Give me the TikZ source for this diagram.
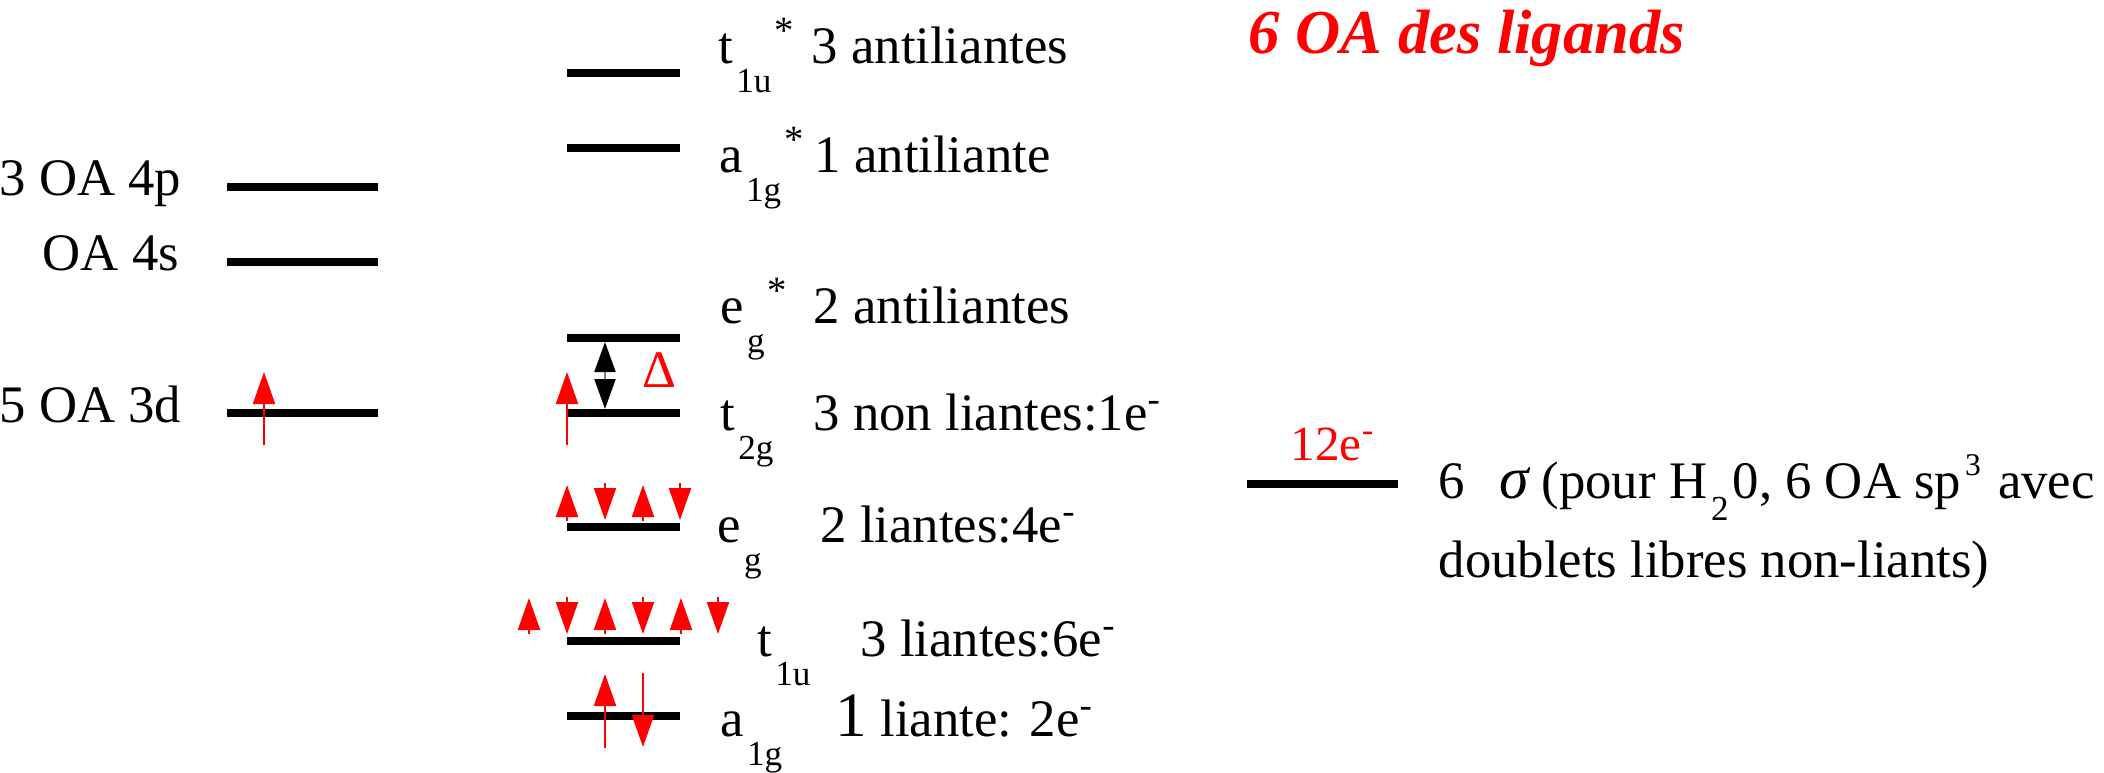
\documentclass[tikz,border=0pt]{standalone}
\usepackage{fontspec}
\setmainfont{Liberation Serif}
\usepackage{tikz}
\usetikzlibrary{arrows.meta}
\newcommand{\osub}[1]{\kern0.3mm\raisebox{-2.9mm}{\fontsize{10}{10}\selectfont #1}}
\newcommand{\ostar}{\kern0.3mm\raisebox{2mm}{\fontsize{11}{11}\selectfont *}}
\newcommand{\eminus}{\textsuperscript{-}}
\tikzset{
  lvl/.style   = {fill=black, inner sep=0pt, outer sep=0pt,
                  minimum width=11.3mm, minimum height=0.8mm},
  lvlw/.style  = {lvl, minimum width=15.1mm},
  lbl/.style   = {anchor=base west, inner sep=0pt,
                  font=\fontsize{15}{18}\selectfont},
  spin/.style  = {red, line width=0.6pt,
                  -{Triangle[length=3.2mm,width=2.2mm]}},
  gapar/.style = {gray, line width=0.6pt,
                  {Triangle[color=black,length=3mm,width=2.1mm]}-{Triangle[color=black,length=3mm,width=2.1mm]}}
}

\begin{document}
\begin{tikzpicture}[x=0.1mm, y=-0.1mm]
  \useasboundingbox (0,0) rectangle (2104,772);
  % OA du metal
  \node[lvlw] (p4) at (302.5,187) {};
  \node[lvlw] (s4) at (302.5,262) {};
  \node[lvlw] (d3) at (302.5,413) {};
  \node[lbl] (p4t) at (-1,195) {3 OA 4p};
  \node[lbl] (s4t) at (42,270)  {OA 4s};
  \node[lbl] (d3t) at (-1,422)  {5 OA 3d};
  \draw[spin] (264,445) -- (264,372);
  % OM du complexe
  \foreach \n/\y in {t1us/73, a1gs/148, egs/338, t2g/413, eg/527, t1u/641, a1g/716}
    \node[lvl] (\n) at (623.5,\y) {};
  \node[lbl] (t1ust) at (718,63)  {t\osub{1u}\ostar};
  \node[lbl] (t1usd) at (811,63)  {3 antiliantes};
  \node[lbl] (a1gst) at (719,172) {a\osub{1g}\ostar};
  \node[lbl] (a1gsd) at (814,172) {1 antiliante};
  \node[lbl] (egst)  at (720,323) {e\osub{g}\ostar};
  \node[lbl] (egsd)  at (813,323) {2 antiliantes};
  \node[lbl] (t2gt)  at (720,430) {t\osub{2g}};
  \node[lbl] (t2gd)  at (813,430) {3 non liantes:1e\eminus};
  \node[lbl] (egt)   at (717,542) {e\osub{g}};
  \node[lbl] (egd)   at (820,542) {2 liantes:4e\eminus};
  \node[lbl] (t1ut)  at (757,656) {t\osub{1u}};
  \node[lbl] (t1ud)  at (860,656) {3 liantes:6e\eminus};
  \node[lbl] (a1gt)  at (720,736) {a\osub{1g}};
  \node[lbl] (a1gd)  at (835,736) {{\fontsize{18}{18}\selectfont 1} liante: 2e\eminus};
  \coordinate (dx) at (605,0);
  \draw[gapar] (egs.south -| dx) -- (t2g.north -| dx);
  \node[lbl, red] (delta) at (642,387) {Δ};
  \draw[spin] (567,445) -- (567,372);
  \foreach \x in {567,643} \draw[spin] (\x,521) -- (\x,485);
  \foreach \x in {605,680} \draw[spin] (\x,483) -- (\x,520);
  \foreach \x in {529,605,681} \draw[spin] (\x,634) -- (\x,598);
  \foreach \x in {567,643,718} \draw[spin] (\x,597) -- (\x,634);
  \draw[spin] (605,748) -- (605,674);
  \draw[spin] (643,673) -- (643,747);
  % OA des ligands
  \node[lbl, red, font=\fontsize{17.8}{21}\selectfont\bfseries\itshape] (lig) at (1248,53) {6 OA des ligands};
  \node[lvlw] (sig) at (1322.5,484) {};
  \node[lbl, red, font=\fontsize{14}{17}\selectfont] (ne) at (1290,460) {12e\eminus};
  \node[lbl] (sigt) at (1438,498)
       {6\hspace{3.4mm}{\fontsize{17}{17}\selectfont\itshape σ} (pour H\kern0.4mm\raisebox{-2.2mm}{\fontsize{10}{10}\selectfont 2}\kern0.4mm 0, 6 OA sp\kern0.4mm\raisebox{2.3mm}{\fontsize{9}{9}\selectfont 3}\kern0.4mm{} avec};
  \node[lbl] (sigt2) at (1438,577) {doublets libres non-liants)};
\end{tikzpicture}
\end{document}
